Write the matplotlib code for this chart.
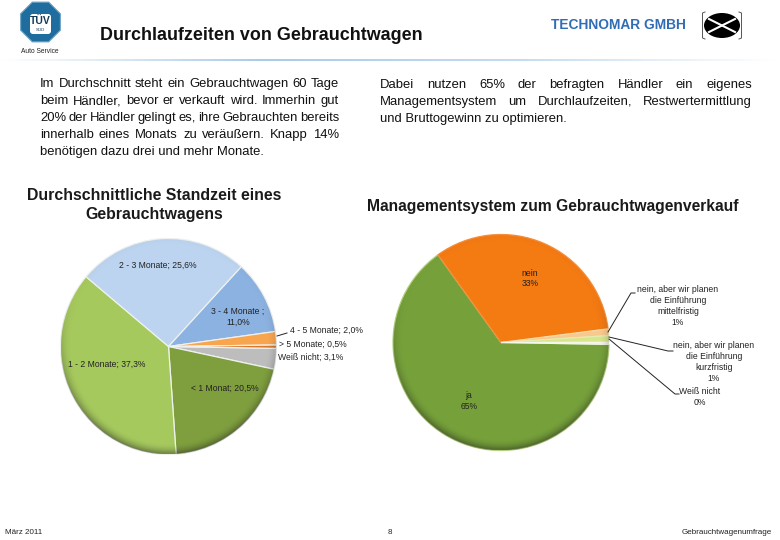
import numpy as np
import matplotlib
matplotlib.use("Agg")
import matplotlib.pyplot as plt
from matplotlib.patches import Circle, Ellipse, RegularPolygon, FancyBboxPatch
from matplotlib.colors import LinearSegmentedColormap

plt.rcParams['font.family'] = ['Liberation Sans', 'DejaVu Sans']

# ---- data ----
stand_names = ["Weiß nicht", "< 1 Monat", "1 - 2 Monate", "2 - 3 Monate", "3 - 4 Monate", "4 - 5 Monate", "> 5 Monate"]
stand_values = [3.1, 20.5, 37.3, 25.6, 11.0, 2.0, 0.5]
stand_colors = ["#BDBDBD", "#7F9F3E", "#A6C95E", "#BCD4EF", "#8CB2E1", "#F9A54E", "#D9782A"]

mgmt_names = ["ja", "nein", "nein, aber wir planen mittelfristig", "nein, aber wir planen kurzfristig", "Weiß nicht"]
mgmt_values = [65, 33, 1, 1, 0.3]
mgmt_colors = ["#76A13A", "#F47A12", "#F8C98E", "#D8E58B", "#EEF2E0"]
mgmt_edges = ["#B4D07E", "#F58F3C", "#F8D9A8", "#E4EDB0", "#F4F6EA"]

body_left = ["Im Durchschnitt steht ein Gebrauchtwagen 60 Tage",
             "beim Händler, bevor er verkauft wird. Immerhin gut",
             "20% der Händler gelingt es, ihre Gebrauchten bereits",
             "innerhalb eines Monats zu veräußern. Knapp 14%",
             "benötigen dazu drei und mehr Monate."]
body_right = ["Dabei nutzen 65% der befragten Händler ein eigenes",
              "Managementsystem um Durchlaufzeiten, Restwertermittlung",
              "und Bruttogewinn zu optimieren."]

W, H = 780, 540
fig = plt.figure(figsize=(W / 100, H / 100), dpi=100, facecolor="white")
ov = fig.add_axes([0, 0, 1, 1], zorder=5)
ov.set_xlim(0, W); ov.set_ylim(H, 0); ov.axis("off"); ov.patch.set_alpha(0)

shade = LinearSegmentedColormap.from_list("s", ["white", "#A9CBEA", "#C4DCF0", "white"])
bar = fig.add_axes([0, 1 - 61.5 / H, 1, 3 / H], zorder=1)
bar.imshow(np.linspace(0, 1, 400)[None, :], aspect="auto", cmap=shade)
bar.axis("off")


def pie(cx, cy, r, values, colors, edges):
    ax = fig.add_axes([(cx - r) / W, 1 - (cy + r) / H, 2 * r / W, 2 * r / H], zorder=2)
    wedges, _ = ax.pie(values, colors=colors, startangle=-1, counterclock=False, radius=1,
                       wedgeprops=dict(linewidth=0.9))
    for w, e in zip(wedges, edges):
        w.set_edgecolor(e)
    ax.set_xlim(-1, 1); ax.set_ylim(-1, 1); ax.axis("off")
    n = 400
    y, x = np.mgrid[-1:1:n * 1j, -1:1:n * 1j]
    rho = np.hypot(x, y)
    a = np.clip((rho - 0.90) / 0.10, 0, 1) ** 2 * (0.02 + 0.40 * np.clip(0.35 - y * 0.8, 0, 1))
    rgba = np.zeros((n, n, 4)); rgba[..., :3] = 0.1; rgba[..., 3] = a
    im = ax.imshow(rgba, extent=(-1, 1, -1, 1), origin="lower", aspect="auto", zorder=5)
    im.set_clip_path(Circle((0, 0), 1, transform=ax.transData))
    return ax


pie(168.5, 346.5, 108, stand_values, stand_colors, ["#EEF1EE"] * len(stand_values))
pie(501, 342.5, 108, mgmt_values, mgmt_colors, mgmt_edges)


def justified(lines, x0, x1, y0, step, fs):
    rend = fig.canvas.get_renderer()
    for i, line in enumerate(lines):
        y = y0 + i * step
        words = line.split(" ")
        if i == len(lines) - 1:
            ov.text(x0, y, line, fontsize=fs, va="baseline", ha="left", color="#111111")
            continue
        ts = [ov.text(x0, y, w, fontsize=fs, va="baseline", ha="left", color="#111111") for w in words]
        ws = [t.get_window_extent(rend).width for t in ts]
        gap = (x1 - x0 - sum(ws)) / (len(words) - 1)
        x = x0
        for t, w in zip(ts, ws):
            t.set_x(x)
            x += w + gap


justified(body_left, 40, 339, 87, 17, 9.4)
justified(body_right, 380, 752, 88, 16.8, 9.4)

ov.text(100, 35.5, "Durchlaufzeiten von Gebrauchtwagen", fontsize=12.9, fontweight="bold", va="center", color="#111111")
ov.text(551, 25, "TECHNOMAR GMBH", fontsize=9.9, fontweight="bold", va="center", color="#2F6DB5")

ov.text(154, 196, "Durchschnittliche Standzeit eines", fontsize=11.4, fontweight="bold", ha="center", va="center", color="#1a1a1a")
ov.text(154, 214, "Gebrauchtwagens", fontsize=11.4, fontweight="bold", ha="center", va="center", color="#1a1a1a")
ov.text(553, 207, "Managementsystem zum Gebrauchtwagenverkauf", fontsize=11.25, fontweight="bold", ha="center", va="center", color="#1a1a1a")

lab = dict(fontsize=6.2, color="#222222", va="center", ha="center", linespacing=1.25)
ov.text(158, 265, "2 - 3 Monate; 25,6%", **lab)
ov.text(238, 317, "3 - 4 Monate ;\n11,0%", **lab)
ov.text(107, 364, "1 - 2 Monate; 37,3%", **lab)
ov.text(225, 388, "< 1 Monat; 20,5%", **lab)
ov.text(326, 330, "4 - 5 Monate; 2,0%", **lab)
ov.text(313, 344.5, "> 5 Monate; 0,5%", **lab)
ov.text(311, 357, "Weiß nicht; 3,1%", **lab)
ov.plot([277, 287], [336, 333], color="#222222", lw=0.7)

ov.text(530, 278.5, "nein\n33%", **lab)
ov.text(469, 401, "ja\n65%", **lab)
ov.text(678, 306, "nein, aber wir planen\ndie Einführung\nmittelfristig\n1%", **lab)
ov.text(714, 362, "nein, aber wir planen\ndie Einführung\nkurzfristig\n1%", **lab)
ov.text(700, 397, "Weiß nicht\n0%", **lab)
ov.plot([608, 631, 635], [332, 293, 293], color="#222222", lw=0.7)
ov.plot([609, 668, 673], [337, 351, 351], color="#222222", lw=0.7)
ov.plot([609, 675, 679], [339, 394, 394], color="#222222", lw=0.7)

foot = dict(fontsize=5.8, va="center", color="#222222")
ov.text(5, 532, "März 2011", ha="left", **foot)
ov.text(390, 532, "8", ha="center", **foot)
ov.text(772, 532, "Gebrauchtwagenumfrage", ha="right", **foot)

# TUV logo
ov.add_patch(RegularPolygon((40.5, 22), 8, radius=21.5, orientation=np.pi / 8, facecolor="#1F6C9E", edgecolor="#6FA3C4", lw=0.8))
ov.add_patch(FancyBboxPatch((30, 14), 21, 20, boxstyle="round,pad=0,rounding_size=3", facecolor="white", edgecolor="none"))
ov.text(40.5, 20.5, "TÜV", fontsize=7.5, fontweight="bold", ha="center", va="center", color="#123A5A")
ov.text(40.5, 30, "SÜD", fontsize=3.2, ha="center", va="center", color="#123A5A")
ov.text(40, 51.5, "Auto Service", fontsize=4.8, ha="center", va="center", color="#222222")

# Technomar logo
for xs in ([705, 702.5, 702.5, 705], [739, 741.5, 741.5, 739]):
    ov.plot(xs, [12, 13, 38, 39], color="#555555", lw=0.7)
ov.add_patch(Ellipse((722, 25.5), 36, 25, facecolor="black", edgecolor="none"))
ov.plot([709, 735], [19, 32], color="white", lw=1.5)
ov.plot([709, 735], [32, 19], color="white", lw=1.5)

fig.savefig("out.png", dpi=100, facecolor="white")
